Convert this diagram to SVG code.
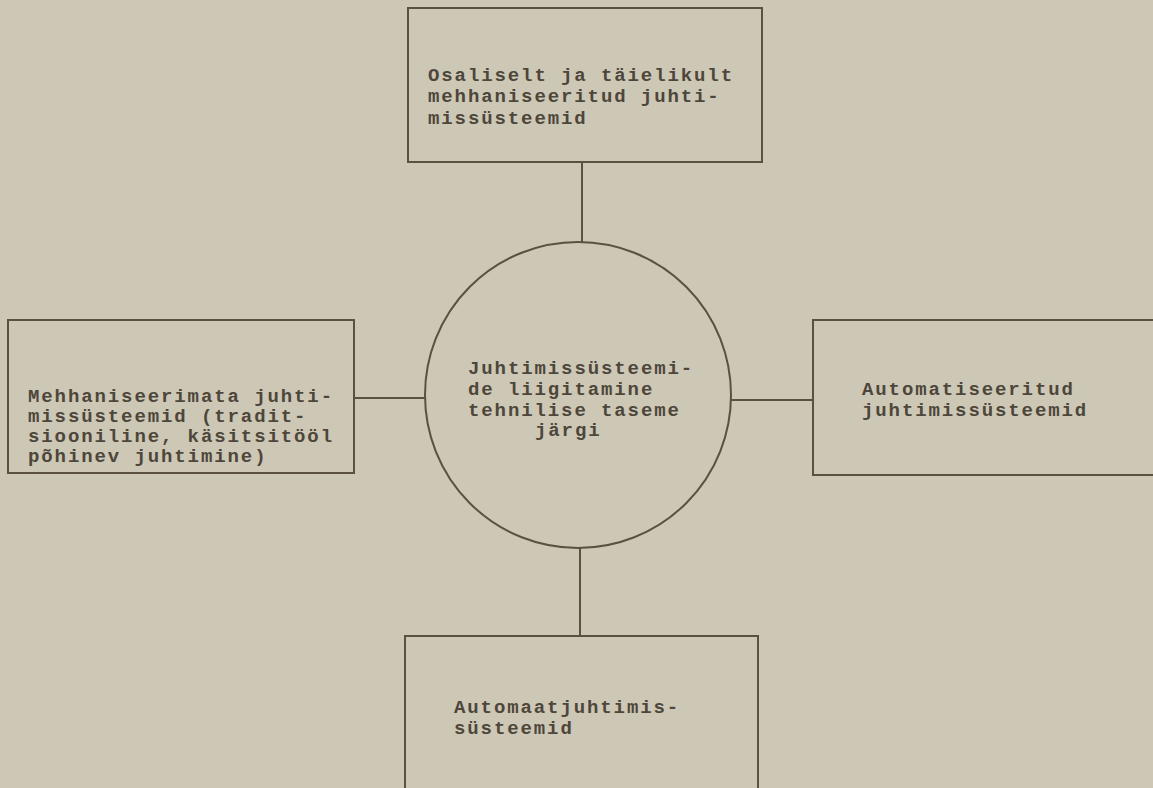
<svg xmlns="http://www.w3.org/2000/svg" width="1153" height="788" viewBox="0 0 1153 788">
<style>
.bg{fill:#cdc7b5}
.box{fill:none;stroke:#5a5142;stroke-width:2}
.ln{stroke:#5a5142;stroke-width:2;fill:none}
.t{font-family:"Liberation Mono","DejaVu Sans Mono",monospace;font-size:19px;letter-spacing:1.9px;font-weight:bold;fill:#4d463a}
</style>
<rect class="bg" x="0" y="0" width="1153" height="788"/>
<g id="connectors">
<line class="ln" x1="582" y1="162" x2="582" y2="242"/>
<line class="ln" x1="580" y1="548" x2="580" y2="636"/>
<line class="ln" x1="354" y1="398" x2="425" y2="398"/>
<line class="ln" x1="730" y1="400" x2="813" y2="400"/>
</g>
<g id="top">
<rect class="box" x="408" y="8" width="354" height="154"/>
<text class="t"><tspan x="428" y="81">Osaliselt ja täielikult</tspan><tspan x="428" y="102">mehhaniseeritud juhti-</tspan><tspan x="428" y="124">missüsteemid</tspan></text>
</g>
<g id="left">
<rect class="box" x="8" y="320" width="346" height="153"/>
<text class="t"><tspan x="28" y="402">Mehhaniseerimata juhti-</tspan><tspan x="28" y="422">missüsteemid (tradit-</tspan><tspan x="28" y="442">siooniline, käsitsitööl</tspan><tspan x="28" y="462">põhinev juhtimine)</tspan></text>
</g>
<g id="center">
<circle class="box" cx="578" cy="395" r="153"/>
<text class="t"><tspan x="468" y="374">Juhtimissüsteemi-</tspan><tspan x="468" y="395">de liigitamine</tspan><tspan x="468" y="416">tehnilise taseme</tspan><tspan x="535" y="436">järgi</tspan></text>
</g>
<g id="right">
<rect class="box" x="813" y="320" width="360" height="155"/>
<text class="t"><tspan x="862" y="395">Automatiseeritud</tspan><tspan x="862" y="416">juhtimissüsteemid</tspan></text>
</g>
<g id="bottom">
<rect class="box" x="405" y="636" width="353" height="170"/>
<text class="t"><tspan x="454" y="713">Automaatjuhtimis-</tspan><tspan x="454" y="734">süsteemid</tspan></text>
</g>
</svg>
